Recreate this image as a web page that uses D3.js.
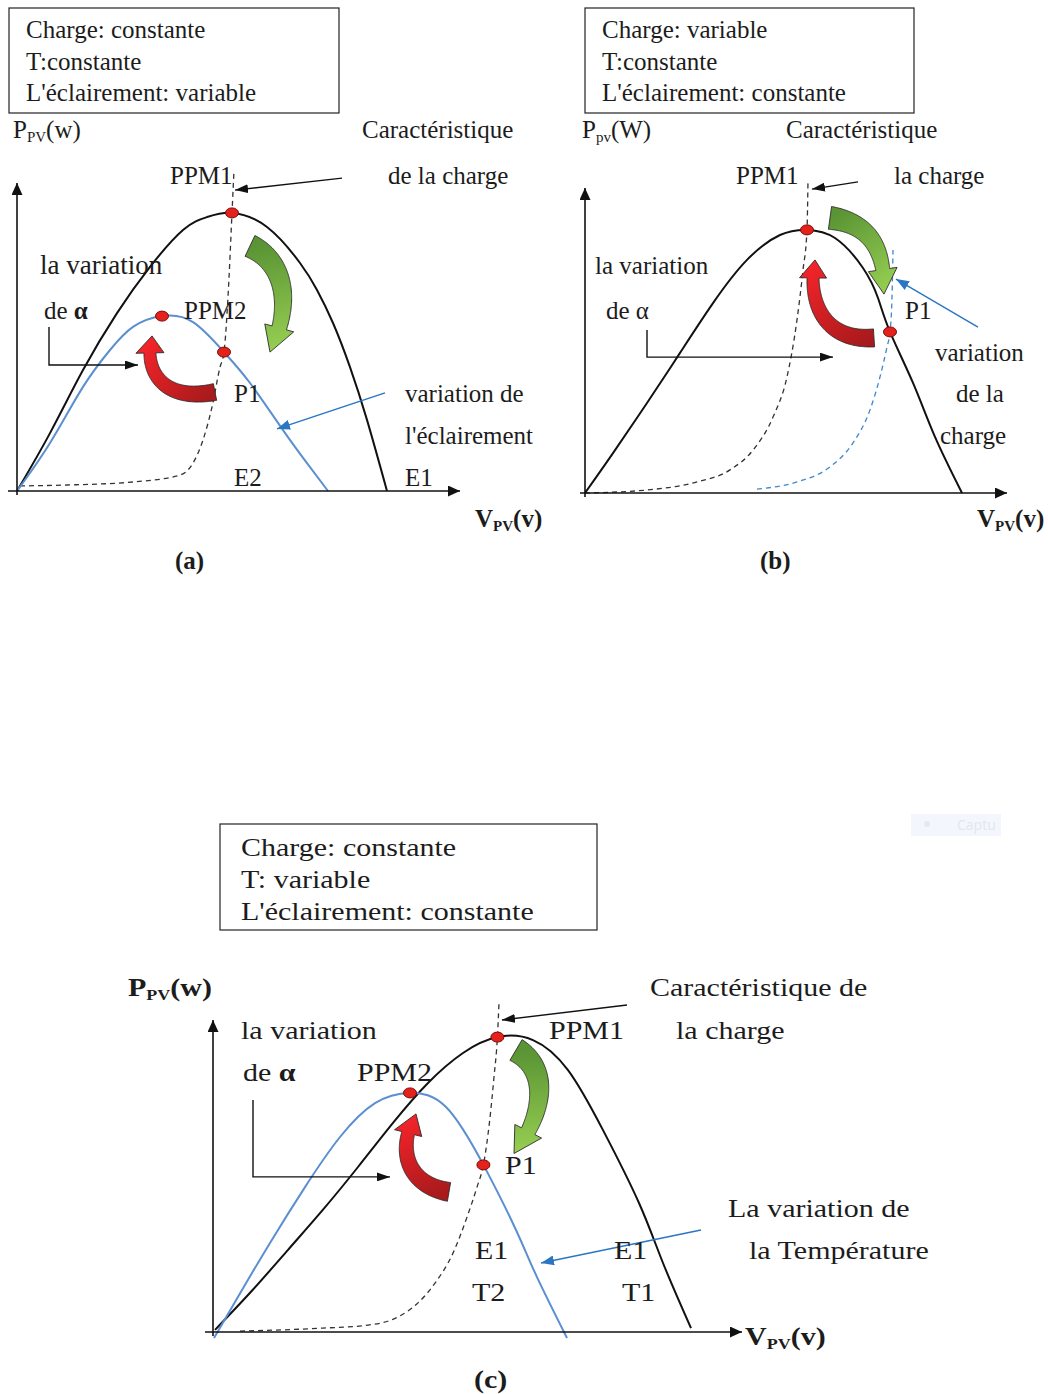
<!DOCTYPE html>
<html>
<head>
<meta charset="utf-8">
<script src="https://cdn.jsdelivr.net/npm/d3@7"></script>
<style>
  body { margin: 0; background: #fff; }
  svg { display: block; }
  text { font-family: "Liberation Serif", "Times New Roman", serif; fill: #1c1c1c; }
</style>
</head>
<body>
<svg id="fig" width="1048" height="1394"></svg>
<script>
// ---------------------------------------------------------------
// P-V characteristics (V and P in relative units, 0..100 scale)
// ---------------------------------------------------------------

// (a) constant load, variable irradiance
const pvA_E1 = [[0,0],[8.25,19.3],[16.5,40.3],[25,59.3],[33.25,74.7],[41.5,87],[47.5,91.3],[53.75,92.7],
                [62.5,88],[70.75,76],[75,67],[79,56],[83.25,41.3],[87.5,23.7],[92.5,0]];
const pvA_E2 = [[0,0],[8.25,16],[16.5,34.7],[23.25,47],[29,54.7],[36.25,58.3],[44,56.3],[51.75,46.3],
                [58.25,36],[66.5,20.3],[72.5,9.3],[77.75,0]];
const loadA  = [[0.75,1.7],[12.5,2],[29,3],[40.75,5.3],[44,9.3],[46.5,17],[48.75,28],[50.75,41.3],
                [51.75,46.3],[52.75,64.7],[53.75,92.7],[54.25,107]];
const ptsA   = [[53.75,92.7],[36.25,58.3],[51.75,46.3]];          // PPM1, PPM2, P1

// (b) variable load, constant irradiance
const pvB      = [[0,0],[7,13.3],[15.5,30],[23.75,46.7],[32,63.3],[40.5,77.7],[48.75,86],[55.5,87.7],
                  [62.5,85],[69.5,75],[73.25,65],[76.25,53.7],[82,36.7],[87.5,18.7],[94.25,0]];
const loadB1   = [[0,0],[15.5,1],[28,3.7],[36.25,7.7],[42,14.3],[47,25.3],[50.5,38.7],[53,57.7],
                  [54.5,74.3],[55.5,87.7],[55.75,104.3]];
const loadB2   = [[43,1.3],[53,3.7],[61.25,8.7],[67,16.7],[71.25,27.7],[73.75,38.7],[75.5,48.7],
                  [76.25,53.7],[76.75,65.3],[77,81]];
const ptsB     = [[55.5,87.7],[76.25,53.7]];                        // PPM1, P1

// (c) constant load, variable temperature
const pvC_T1 = [[0.5,0.7],[9.9,14],[18.7,27.3],[27.45,40.7],[36.25,55],[45,69.7],[53.75,83],[62.5,93],
                [71.1,98.3],[80,97.3],[88.75,87.3],[97.5,67.3],[106.5,43],[112.5,23],[119.5,1.3]];
const pvC_T2 = [[0.25,-2],[7.25,14],[14.25,29.7],[23,48.3],[31.75,65],[40.5,76.3],[49.25,79.7],
                [58.25,75],[67.6,55.7],[75.75,34],[81,18.3],[88.5,-2]];
const loadC  = [[6.75,0.3],[27.5,1.3],[38.75,2.3],[45.75,4.7],[51.25,9.7],[55.5,16.3],[60,26.3],
                [63.5,38.3],[66,48.3],[67.6,55.7],[69.1,69.7],[70.25,85],[71.1,98.3],[71.5,109.7]];
const ptsC   = [[71.1,98.3],[49.25,79.7],[67.6,55.7]];            // PPM1, PPM2, P1

// Axis extents [vMin, vMax, pMin, pMax]
const axesA = [-2.25, 110.75, -1.3, 102.7];
const axesB = [-1.25, 105.5, -1.3, 101.7];
const axesC = [-2, 132.25, -1.3, 104];

// Pointer arrows (from, to)
const ptrA_load  = [[81.25,104.3],[54.5,100.3]];
const ptrA_irr   = [[92,32.7],[65,20.7]];
const elbowA     = [[8,54.7],[8,42],[30.25,42]];
const ptrB_load  = [[68.25,103.7],[56.75,101.3]];
const ptrB_var   = [[98.25,55.3],[77.75,71.3]];
const elbowB     = [[15.5,54.3],[15.5,45.3],[62,45.3]];
const ptrC_load  = [[103.5,109],[72.25,104]];
const ptrC_temp  = [[122,34],[82,23]];
const elbowC     = [[10,77.3],[10,51.7],[44.25,51.7]];

// Curved block arrows (cubic Bezier: tail, c1, c2, tip)
const turnA_red   = [[49.5,33],[36.5,29.5],[31.5,40],[33.75,51.7]];
const turnA_green = [[58.25,81.7],[67,76.3],[69,62],[63.25,46.3]];
const turnB_red   = [[72.25,51.7],[59.5,50.5],[55.5,64.3],[57.5,77.7]];
const turnB_green = [[61.25,91.7],[72.5,89.7],[75,79],[74.75,66.3]];
const turnC_red   = [[59,46.7],[48.5,49],[45.75,61],[50.75,72.7]];
const turnC_green = [[75.75,94],[84.5,87.3],[82.5,72],[75.25,59.5]];

// ---------------------------------------------------------------
const svg = d3.select("#fig");
const defs = svg.append("defs");

function marker(id, color, len, wid) {
  defs.append("marker")
    .attr("id", id).attr("viewBox", `0 0 ${len} ${wid}`)
    .attr("refX", len).attr("refY", wid / 2)
    .attr("markerWidth", len).attr("markerHeight", wid)
    .attr("markerUnits", "userSpaceOnUse").attr("orient", "auto")
    .append("path").attr("d", `M0,0L${len},${wid/2}L0,${wid}Z`).attr("fill", color);
}
marker("axisHead", "#111", 12, 11);
marker("ptrHead", "#111", 13, 9);
marker("bluHead", "#2a76c2", 13, 10);

const BLUE = "#5b8fd1";
let gradId = 0;

function makePanel(x0, y0) {
  const x = d3.scaleLinear().domain([0, 100]).range([x0, x0 + 400]);
  const y = d3.scaleLinear().domain([0, 100]).range([y0, y0 - 300]);
  const g = svg.append("g");
  const pv = d3.line().x(d => x(d[0])).y(d => y(d[1])).curve(d3.curveNatural);
  const load = d3.line().x(d => x(d[0])).y(d => y(d[1])).curve(d3.curveMonotoneX);
  return { x, y, g, pv, load };
}

function drawAxes(P, ext) {
  P.g.append("line")
    .attr("x1", P.x(ext[0])).attr("y1", P.y(0)).attr("x2", P.x(ext[1])).attr("y2", P.y(0))
    .attr("stroke", "#111").attr("stroke-width", 1.6).attr("marker-end", "url(#axisHead)");
  P.g.append("line")
    .attr("x1", P.x(0)).attr("y1", P.y(ext[2])).attr("x2", P.x(0)).attr("y2", P.y(ext[3]))
    .attr("stroke", "#111").attr("stroke-width", 1.6).attr("marker-end", "url(#axisHead)");
}

function drawCurve(P, data, color, dashed) {
  P.g.append("path").attr("d", (dashed ? P.load : P.pv)(data)).attr("fill", "none")
    .attr("stroke", color).attr("stroke-width", dashed ? 1.3 : 2)
    .attr("stroke-dasharray", dashed ? "5,4" : null);
}

function drawPointer(P, pts, head, color) {
  P.g.append("path")
    .attr("d", d3.line().x(d => P.x(d[0])).y(d => P.y(d[1])).curve(d3.curveLinear)(pts))
    .attr("fill", "none").attr("stroke", color).attr("stroke-width", 1.4)
    .attr("marker-end", `url(#${head})`);
}

function drawDots(P, pts) {
  P.g.selectAll(null).data(pts).join("ellipse")
    .attr("cx", d => P.x(d[0])).attr("cy", d => P.y(d[1]))
    .attr("rx", 6.5).attr("ry", 5)
    .attr("fill", "#e4221c").attr("stroke", "#7c0c0c").attr("stroke-width", 1);
}

// Thick curved arrow built around a cubic Bezier centre line
function drawTurn(P, ctrl, opt) {
  const c = ctrl.map(d => [P.x(d[0]), P.y(d[1])]);
  const bez = t => {
    const u = 1 - t;
    return [u*u*u*c[0][0] + 3*u*u*t*c[1][0] + 3*u*t*t*c[2][0] + t*t*t*c[3][0],
            u*u*u*c[0][1] + 3*u*u*t*c[1][1] + 3*u*t*t*c[2][1] + t*t*t*c[3][1]];
  };
  const N = 120, S = d3.range(N + 1).map(i => bez(i / N));
  const L = [0];
  for (let i = 1; i <= N; i++) L.push(L[i-1] + Math.hypot(S[i][0]-S[i-1][0], S[i][1]-S[i-1][1]));
  const baseLen = L[N] - opt.head;
  const ib = L.findIndex(l => l >= baseLen);
  const normal = i => {
    const a = S[Math.max(0, i-1)], b = S[Math.min(N, i+1)];
    const dx = b[0]-a[0], dy = b[1]-a[1], m = Math.hypot(dx, dy);
    return [-dy/m, dx/m];
  };
  const left = [], right = [];
  for (let i = 0; i <= ib; i++) {
    const n = normal(i), s = L[i] / baseLen;
    const w = (opt.w0 + (opt.w1 - opt.w0) * s) / 2;
    left.push([S[i][0] + n[0]*w, S[i][1] + n[1]*w]);
    right.push([S[i][0] - n[0]*w, S[i][1] - n[1]*w]);
  }
  const nb = normal(ib), hb = opt.hw / 2;
  const outline = [...left,
    [S[ib][0] + nb[0]*hb, S[ib][1] + nb[1]*hb],
    S[N],
    [S[ib][0] - nb[0]*hb, S[ib][1] - nb[1]*hb],
    ...right.reverse()];
  const id = "turnGrad" + (gradId++);
  const gr = defs.append("linearGradient").attr("id", id).attr("gradientUnits", "userSpaceOnUse")
    .attr("x1", c[0][0]).attr("y1", c[0][1]).attr("x2", c[3][0]).attr("y2", c[3][1]);
  gr.append("stop").attr("offset", 0).attr("stop-color", opt.c0);
  gr.append("stop").attr("offset", 1).attr("stop-color", opt.c1);
  P.g.append("path").attr("d", d3.line()(outline) + "Z")
    .attr("fill", `url(#${id})`).attr("stroke", "#2b2b2b").attr("stroke-width", 0.9)
    .attr("stroke-linejoin", "round");
}
const RED = { c0: "#a81a1c", c1: "#f4242a" };
const GREEN = { c0: "#5a9434", c1: "#97cf52" };

// Text helper: parts = string or [[text, flag]] with flag "sub" | "b"
function label(parent, x, y, parts, o = {}) {
  const t = parent.append("text")
    .attr("font-size", o.size || 25)
    .attr("font-weight", o.bold ? "bold" : null);
  if (o.sx) t.attr("transform", `translate(${x},${y}) scale(${o.sx},1)`);
  else t.attr("x", x).attr("y", y);
  if (typeof parts === "string") { t.text(parts); return t; }
  let prev = null;
  parts.forEach(([s, f]) => {
    const ts = t.append("tspan").text(s);
    if (f === "sub") ts.attr("font-size", 15).attr("dy", 4);
    else if (prev === "sub") ts.attr("dy", -4);
    if (f === "b") ts.attr("font-weight", "bold");
    prev = f;
  });
  return t;
}

function box(parent, x, y, w, h) {
  parent.append("rect").attr("x", x).attr("y", y).attr("width", w).attr("height", h)
    .attr("fill", "none").attr("stroke", "#222").attr("stroke-width", 1.2);
}

// ------------------------------ (a) ------------------------------
const A = makePanel(17, 491);
drawCurve(A, loadA, "#333", true);
drawCurve(A, pvA_E1, "#111", false);
drawCurve(A, pvA_E2, BLUE, false);
drawAxes(A, axesA);
drawPointer(A, ptrA_load, "ptrHead", "#111");
drawPointer(A, ptrA_irr, "bluHead", "#2a76c2");
drawPointer(A, elbowA, "ptrHead", "#111");
drawTurn(A, turnA_red, { w0: 17, w1: 12, hw: 28, head: 18, ...RED });
drawTurn(A, turnA_green, { w0: 23, w1: 15, hw: 30, head: 27, ...GREEN });
drawDots(A, ptsA);

box(A.g, 9, 8, 330, 105);
label(A.g, 26, 38, "Charge: constante");
label(A.g, 26, 70, "T:constante");
label(A.g, 26, 101, "L'éclairement: variable");
label(A.g, 13, 138, [["P"], ["PV", "sub"], ["(w)"]]);
label(A.g, 362, 138, "Caractéristique");
label(A.g, 170, 184, "PPM1");
label(A.g, 388, 184, "de la charge");
label(A.g, 40, 274, "la variation", { size: 27 });
label(A.g, 44, 319, [["de "], ["α", "b"]]);
label(A.g, 184, 319, "PPM2");
label(A.g, 234, 402, "P1");
label(A.g, 405, 402, "variation de");
label(A.g, 405, 444, "l'éclairement");
label(A.g, 234, 486, "E2");
label(A.g, 405, 486, "E1");
label(A.g, 475, 527, [["V"], ["PV", "sub"], ["(v)"]], { bold: true });
label(A.g, 175, 569, "(a)", { bold: true });

// ------------------------------ (b) ------------------------------
const B = makePanel(585, 493);
drawCurve(B, loadB1, "#333", true);
drawCurve(B, loadB2, "#3f86cf", true);
drawCurve(B, pvB, "#111", false);
drawAxes(B, axesB);
drawPointer(B, ptrB_load, "ptrHead", "#111");
drawPointer(B, ptrB_var, "bluHead", "#2a76c2");
drawPointer(B, elbowB, "ptrHead", "#111");
drawTurn(B, turnB_red, { w0: 18, w1: 12, hw: 27, head: 19, ...RED });
drawTurn(B, turnB_green, { w0: 23, w1: 14, hw: 29, head: 25, ...GREEN });
drawDots(B, ptsB);

box(B.g, 585, 8, 329, 105);
label(B.g, 602, 38, "Charge: variable");
label(B.g, 602, 70, "T:constante");
label(B.g, 602, 101, "L'éclairement: constante");
label(B.g, 582, 138, [["P"], ["pv", "sub"], ["(W)"]]);
label(B.g, 786, 138, "Caractéristique");
label(B.g, 736, 184, "PPM1");
label(B.g, 894, 184, "la charge");
label(B.g, 595, 274, "la variation");
label(B.g, 606, 319, "de α");
label(B.g, 905, 319, "P1");
label(B.g, 935, 361, "variation");
label(B.g, 956, 402, "de la");
label(B.g, 940, 444, "charge");
label(B.g, 977, 527, [["V"], ["PV", "sub"], ["(v)"]], { bold: true });
label(B.g, 760, 569, "(b)", { bold: true });

// ------------------------------ (c) ------------------------------
const C = makePanel(213, 1332);
drawCurve(C, loadC, "#333", true);
drawCurve(C, pvC_T1, "#111", false);
drawCurve(C, pvC_T2, BLUE, false);
drawAxes(C, axesC);
drawPointer(C, ptrC_load, "ptrHead", "#111");
drawPointer(C, ptrC_temp, "bluHead", "#2a76c2");
drawPointer(C, elbowC, "ptrHead", "#111");
drawTurn(C, turnC_red, { w0: 19, w1: 13, hw: 28, head: 21, ...RED });
drawTurn(C, turnC_green, { w0: 24, w1: 15, hw: 30, head: 27, ...GREEN });
drawDots(C, ptsC);

const SX = 1.2;
box(C.g, 220, 824, 377, 106);
label(C.g, 241, 856, "Charge: constante", { sx: SX });
label(C.g, 241, 888, "T: variable", { sx: SX });
label(C.g, 241, 920, "L'éclairement: constante", { sx: SX });
label(C.g, 128, 996, [["P"], ["PV", "sub"], ["(w)"]], { bold: true, sx: SX });
label(C.g, 650, 996, "Caractéristique de", { sx: SX });
label(C.g, 676, 1039, "la charge", { sx: SX });
label(C.g, 549, 1039, "PPM1", { sx: SX });
label(C.g, 241, 1039, "la variation", { sx: SX });
label(C.g, 243, 1081, [["de "], ["α", "b"]], { sx: SX });
label(C.g, 357, 1081, "PPM2", { sx: SX });
label(C.g, 505, 1174, "P1", { sx: SX });
label(C.g, 728, 1217, "La variation de", { sx: SX });
label(C.g, 749, 1259, "la Température", { sx: SX });
label(C.g, 475, 1259, "E1", { sx: SX });
label(C.g, 614, 1259, "E1", { sx: SX });
label(C.g, 472, 1301, "T2", { sx: SX });
label(C.g, 622, 1301, "T1", { sx: SX });
label(C.g, 745, 1345, [["V"], ["PV", "sub"], ["(v)"]], { bold: true, sx: SX });
label(C.g, 474, 1388, "(c)", { bold: true, sx: SX });

// faint capture tooltip remnant
const tip = svg.append("g");
tip.append("rect").attr("x", 911).attr("y", 814).attr("width", 90).attr("height", 22).attr("fill", "#f3f7fd");
tip.append("circle").attr("cx", 927).attr("cy", 824).attr("r", 3).attr("fill", "#e6e8ee");
tip.append("text").attr("x", 957).attr("y", 830).attr("font-size", 14)
  .style("font-family", "'Open Sans', sans-serif").style("fill", "#e4e6ea").text("Captu");
</script>
</body>
</html>
